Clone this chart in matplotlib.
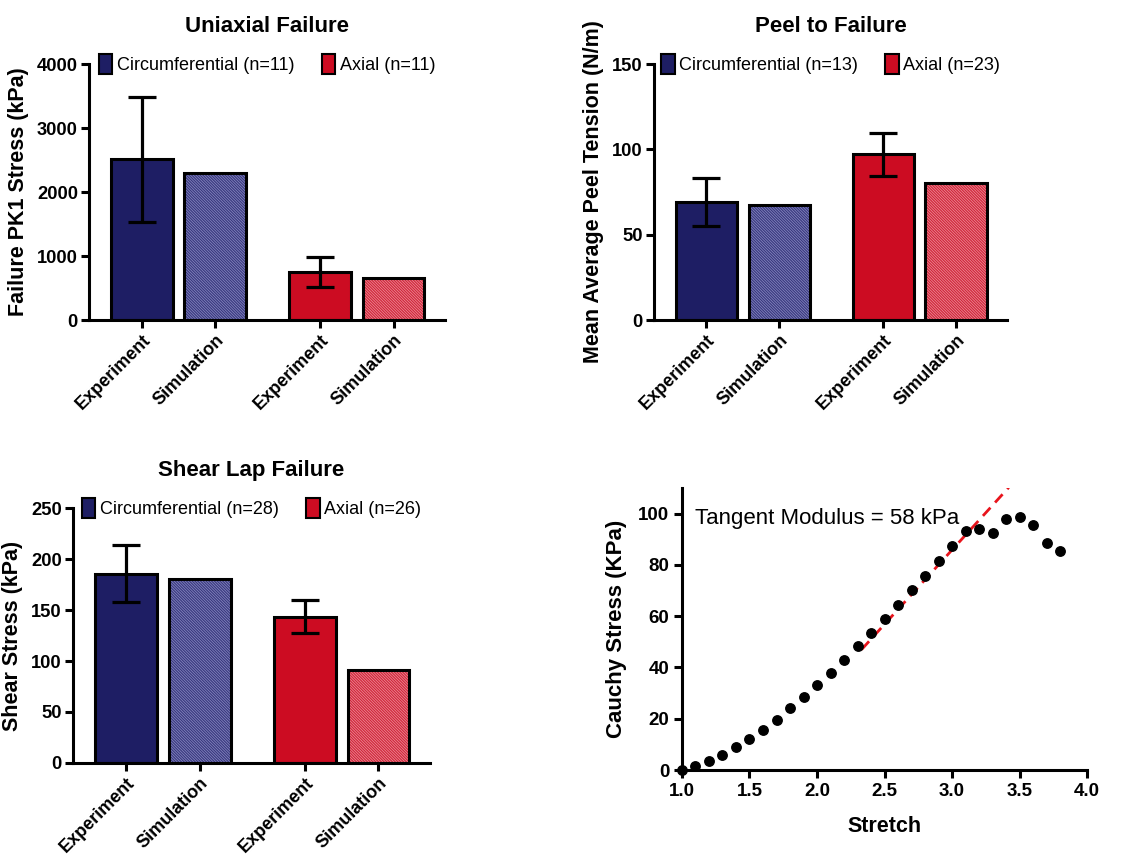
import numpy as np
import matplotlib.pyplot as plt

plt.rcParams['font.family'] = ['Liberation Sans', 'DejaVu Sans']
plt.rcParams['hatch.linewidth'] = 0.9

# ---- data ----
bar_labels = ["Experiment", "Simulation", "Experiment", "Simulation"]

uni_vals = [2510, 2290, 750, 655]
uni_err = [980, 0, 235, 0]
uni_n = [11, 11]

peel_vals = [69, 67.5, 97, 80.5]
peel_err = [14.2, 0, 12.5, 0]
peel_n = [13, 23]

shear_vals = [185.5, 180.5, 143.5, 91]
shear_err = [28, 0, 16, 0]
shear_n = [28, 26]

stretch = [1.0, 1.1, 1.2, 1.3, 1.4, 1.5, 1.6, 1.7, 1.8, 1.9, 2.0, 2.1, 2.2, 2.3,
           2.4, 2.5, 2.6, 2.7, 2.8, 2.9, 3.0, 3.1, 3.2, 3.3, 3.4, 3.5, 3.6, 3.7, 3.8]
cauchy = [0, 1.5, 3.5, 5.8, 8.8, 12.2, 15.8, 19.7, 24.0, 28.6, 33.1, 38.0, 43.1, 48.4,
          53.6, 59.0, 64.5, 70.4, 75.8, 81.6, 87.4, 93.1, 93.9, 92.3, 97.8, 98.8, 95.7, 88.6, 85.5]
modulus = 58.0
fit_x0 = 1.52          # stretch where the tangent line crosses zero
fit_range = [2.33, 3.42]

navy = '#1e1e64'
red = '#cc0c22'
navy_light = '#8c8cc4'
red_light = '#f0939e'
xpos = np.array([0, 1, 2.43, 3.43])


def bar_panel(ax, vals, errs, n, title, ylabel, ymax, yticks):
    solid = [navy, None, red, None]
    light = [navy_light, navy_light, red_light, red_light]
    hatch_c = ['#3a3a80', '#3a3a80', '#d0283c', '#d0283c']
    for i in range(4):
        if solid[i] is not None:
            ax.bar(xpos[i], vals[i], 0.84, color=solid[i], edgecolor='black', linewidth=2.2, zorder=2)
        else:
            ax.bar(xpos[i], vals[i], 0.84, color=light[i], edgecolor=hatch_c[i],
                   hatch='\\' * 12, linewidth=0, zorder=2)
            ax.bar(xpos[i], vals[i], 0.84, color='none', edgecolor='black', linewidth=2.2, zorder=3)
    for i in [0, 2]:
        ax.errorbar(xpos[i], vals[i], yerr=errs[i], fmt='none', ecolor='black',
                    elinewidth=2.3, capsize=10, capthick=2.3, zorder=4)
    ax.set_xlim(-0.72, 4.13)
    ax.set_ylim(0, ymax)
    ax.set_yticks(yticks)
    ax.set_xticks(xpos)
    ax.set_xticklabels(bar_labels, rotation=45, ha='right', rotation_mode='anchor',
                       fontsize=13, fontweight='bold')
    for lab in ax.get_yticklabels():
        lab.set_fontweight('bold')
        lab.set_fontsize(13.2)
    ax.tick_params(width=2.2, length=6, pad=2)
    ax.spines['top'].set_visible(False)
    ax.spines['right'].set_visible(False)
    ax.spines['left'].set_linewidth(2.2)
    ax.spines['bottom'].set_linewidth(2.2)
    ax.set_ylabel(ylabel, fontsize=15.5, fontweight='bold', labelpad=6)
    ax.set_title(title, fontsize=16, fontweight='bold', pad=23)
    h1 = plt.Rectangle((0, 0), 1, 1, facecolor=navy, edgecolor='black', linewidth=1.5)
    h2 = plt.Rectangle((0, 0), 1, 1, facecolor=red, edgecolor='black', linewidth=1.5)
    ax.legend([h1, h2], [f"Circumferential (n={n[0]})", f"Axial (n={n[1]})"],
              loc='center', bbox_to_anchor=(0.5, 1.0), ncol=2, frameon=False,
              fontsize=13, handlelength=0.75, handleheight=1.3, handletextpad=0.25,
              columnspacing=1.5)


fig = plt.figure(figsize=(11.28, 8.57), dpi=100)

ax1 = fig.add_axes([0.0789, 0.6266, 0.3156, 0.2987])
bar_panel(ax1, uni_vals, uni_err, uni_n, "Uniaxial Failure", "Failure PK1 Stress (kPa)",
          4000, [0, 1000, 2000, 3000, 4000])

ax2 = fig.add_axes([0.5798, 0.6266, 0.3129, 0.2987])
bar_panel(ax2, peel_vals, peel_err, peel_n, "Peel to Failure", "Mean Average Peel Tension (N/m)",
          150, [0, 50, 100, 150])

ax3 = fig.add_axes([0.0647, 0.1097, 0.3165, 0.2975])
bar_panel(ax3, shear_vals, shear_err, shear_n, "Shear Lap Failure", "Shear Stress (kPa)",
          250, [0, 50, 100, 150, 200, 250])

ax4 = fig.add_axes([0.6046, 0.1015, 0.3591, 0.3291])
ax4.plot(stretch, cauchy, 'o', color='black', markersize=6.8, clip_on=False, zorder=3)
fx = np.array(fit_range)
ax4.plot(fx, modulus * (fx - fit_x0), '--', color='#e8141c', linewidth=2, dashes=(4, 2.5), zorder=2)
ax4.text(1.1, 98, "Tangent Modulus = 58 kPa", fontsize=16, va='center')
ax4.set_xlim(1.0, 4.0)
ax4.set_ylim(0, 110)
ax4.set_xticks([1.0, 1.5, 2.0, 2.5, 3.0, 3.5, 4.0])
ax4.set_xticklabels(["1.0", "1.5", "2.0", "2.5", "3.0", "3.5", "4.0"])
ax4.set_yticks([0, 20, 40, 60, 80, 100])
for lab in ax4.get_xticklabels() + ax4.get_yticklabels():
    lab.set_fontweight('bold')
    lab.set_fontsize(13.5)
ax4.tick_params(width=2.2, length=6, pad=3)
ax4.spines['top'].set_visible(False)
ax4.spines['right'].set_visible(False)
ax4.spines['left'].set_linewidth(2.2)
ax4.spines['bottom'].set_linewidth(2.2)
ax4.set_xlabel("Stretch", fontsize=15.5, fontweight='bold', labelpad=12)
ax4.set_ylabel("Cauchy Stress (KPa)", fontsize=16, fontweight='bold', labelpad=8)

fig.savefig("out.png", dpi=100)
